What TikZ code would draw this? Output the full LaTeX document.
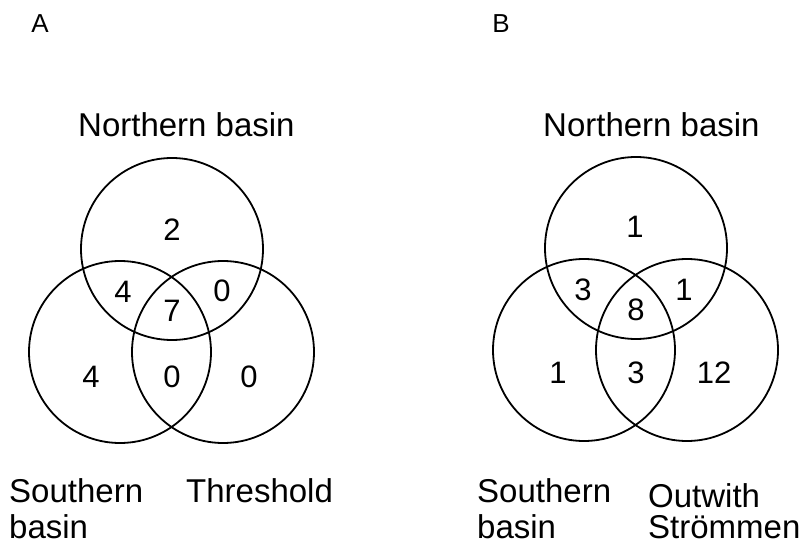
\documentclass[tikz,border=0pt]{standalone}
\usepackage{fontspec}
\setmainfont{Liberation Sans}
\begin{document}
\begin{tikzpicture}[x=1pt,y=-1pt,
  ring/.style={circle,draw,line width=1.8pt,minimum size=182pt,inner sep=0pt},
  lbl/.style={inner sep=0pt,anchor=base west,text depth=0pt,font=\fontsize{33}{36}\selectfont},
  num/.style={inner sep=0pt,font=\fontsize{31}{34}\selectfont},
  panel/.style={inner sep=0pt,font=\fontsize{26}{30}\selectfont}]
\useasboundingbox (0,0) rectangle (803,545);
% Panel A
\node[panel] (pA) at (40,24) {A};
\node[ring] (aN) at (172,249) {};
\node[ring] (aS) at (120,352) {};
\node[ring] (aT) at (223,352) {};
\node[lbl] (aNl) at (78,137) {Northern basin};
\node[lbl] (aSl) at (9,502) {Southern};
\node[lbl] (aSl2) at (9,538) {basin};
\node[lbl] (aTl) at (186,502) {Threshold};
\node[num] (a1) at (172,230) {2};
\node[num] (a2) at (123,292) {4};
\node[num] (a3) at (172,311) {7};
\node[num] (a4) at (222,291) {0};
\node[num] (a5) at (91,377) {4};
\node[num] (a6) at (172,377) {0};
\node[num] (a7) at (249,377) {0};
% Panel B
\node[panel] (pB) at (501,24) {B};
\node[ring] (bN) at (636,248) {};
\node[ring] (bS) at (584,350) {};
\node[ring] (bO) at (687,350) {};
\node[lbl] (bNl) at (543,137) {Northern basin};
\node[lbl] (bSl) at (477,502) {Southern};
\node[lbl] (bSl2) at (477,538) {basin};
\node[lbl] (bOl) at (648,507) {Outwith};
\node[lbl] (bOl2) at (648,538) {Strömmen};
\node[num] (b1) at (635,227) {1};
\node[num] (b2) at (583,290) {3};
\node[num] (b3) at (636,310) {8};
\node[num] (b4) at (684,290) {1};
\node[num] (b5) at (558,373) {1};
\node[num] (b6) at (636,373) {3};
\node[num] (b7) at (714,373) {12};
\end{tikzpicture}
\end{document}
